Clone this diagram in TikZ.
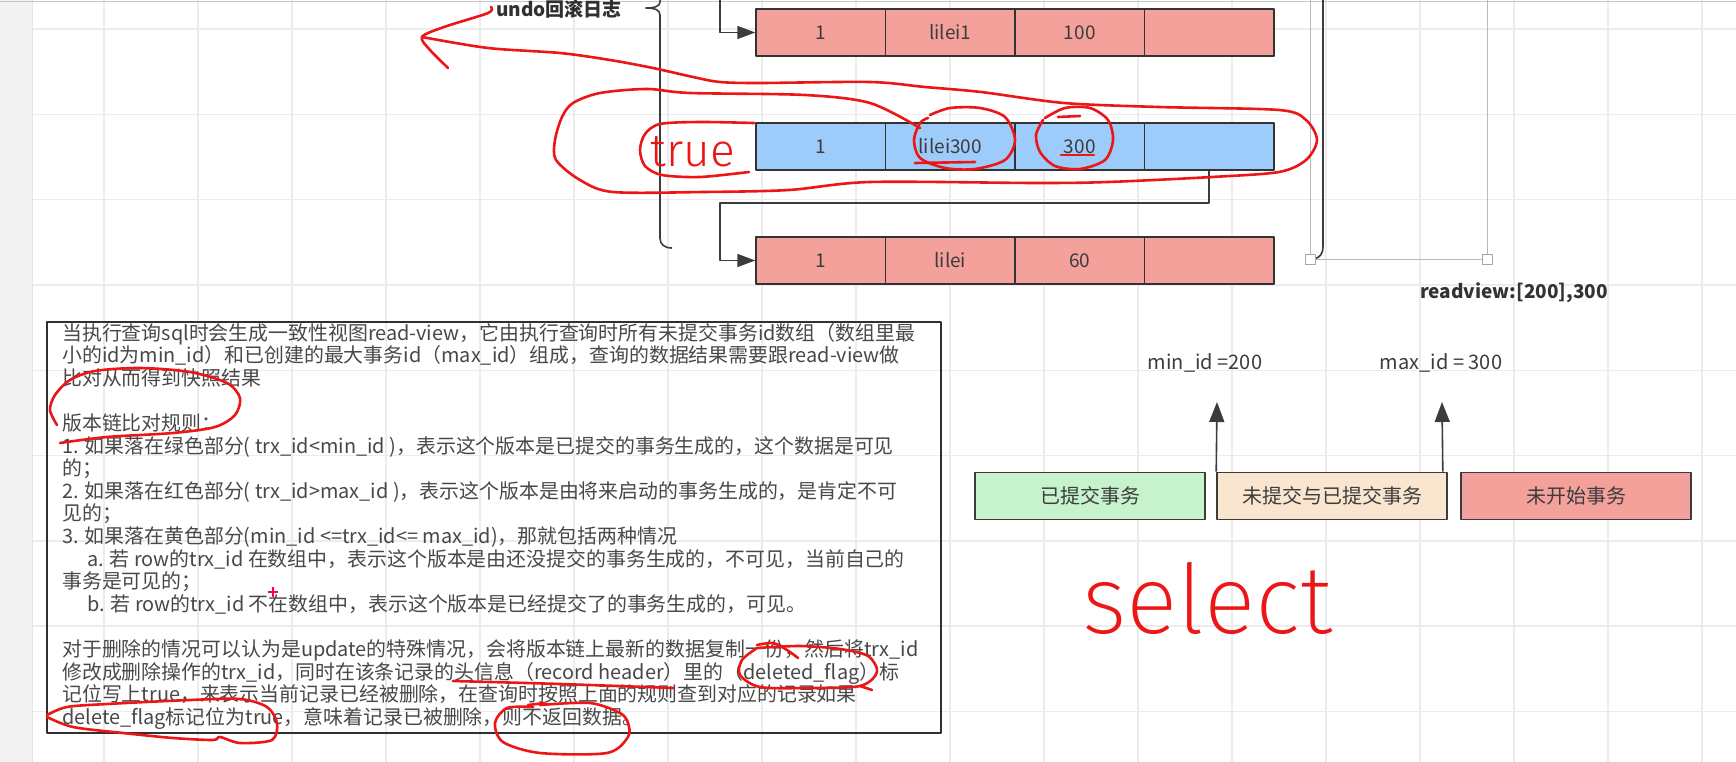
\documentclass[tikz,border=0pt]{standalone}
\usepackage{fontspec}
\setmainfont{Noto Sans CJK SC}
\IfFontExistsTF{Fira Sans ExtraLight}{\newfontfamily\handfont{Fira Sans ExtraLight}}{%
  \IfFontExistsTF{Fira Sans Light}{\newfontfamily\handfont{Fira Sans Light}}{\newfontfamily\handfont{Liberation Sans}}}
\IfFontExistsTF{Fira Sans Light}{\newfontfamily\handfontb{Fira Sans Light}}{\newfontfamily\handfontb{Liberation Sans}}
\usetikzlibrary{arrows.meta,calc}
\definecolor{rowred}{HTML}{F4A19C}
\definecolor{rowblue}{HTML}{9DCBFA}
\definecolor{lgreen}{HTML}{C6F3CB}
\definecolor{ltan}{HTML}{FAE6CF}
\definecolor{lred}{HTML}{F4A09B}
\definecolor{pen}{RGB}{236,22,22}
\definecolor{gridc}{RGB}{236,236,236}
\definecolor{ink}{RGB}{60,60,60}
\definecolor{bodyink}{RGB}{72,72,72}
\definecolor{strip}{RGB}{242,242,242}
\tikzset{
  cell/.style={draw=ink!85!black, line width=1.5pt, minimum width=129.5pt, minimum height=47pt, inner sep=0pt, font=\fontsize{19}{19}\selectfont, text=ink},
  conn/.style={draw=ink, line width=1.6pt},
  tipA/.style={-{Triangle[length=18pt,width=13pt]}},
  tipB/.style={-{Triangle[length=20pt,width=15pt]}},
  lbox/.style={draw=ink, line width=1.6pt, minimum width=230pt, minimum height=47pt, inner sep=0pt, font=\fontsize{20}{20}\selectfont, text=ink},
  penline/.style={draw=pen, line width=2.6pt, line cap=round, line join=round},
  ln/.style={anchor=base west, inner sep=0pt, font=\fontsize{19.9}{19.9}\selectfont, text=bodyink},
  handle/.style={draw=gray!70, fill=white, line width=1pt, minimum size=10pt, inner sep=0pt},
  gridline/.style={draw=gridc, line width=1.4pt}
}
\begin{document}
\begin{tikzpicture}[x=1pt,y=-1pt,line join=round]
\useasboundingbox (0,0) rectangle (1736,762);
\fill[white] (0,0) rectangle (1736,762);
% grid
\foreach \i in {1,...,18} \draw[gridline] ({10+94*\i},0) -- ({10+94*\i},762);
\foreach \i in {0,...,8} \draw[gridline] (32,{29+85.3*\i}) -- (1736,{29+85.3*\i});
\fill[strip] (0,0) rectangle (32,762);
\draw[gray!20, line width=1pt] (32,0) -- (32,762);
\draw[gray!45, line width=1.2pt] (0,1.5) -- (1736,1.5);

% version chain rows
\foreach \r/\y/\f/\a/\b/\c in {1/32.5/rowred/1/lilei1/100, 2/146.5/rowblue/1/lilei300/300, 3/260.5/rowred/1/lilei/60}{
  \node[cell, fill=\f] (r\r-a) at (820.75,\y) {\a};
  \node[cell, fill=\f] (r\r-b) at (950.25,\y) {\b};
  \node[cell, fill=\f] (r\r-c) at (1079.75,\y) {\c};
  \node[cell, fill=\f] (r\r-d) at (1209.25,\y) {};
}
\coordinate (topin) at (720,-3);
\draw[conn, tipA] (topin) |- (r1-a.west);
\coordinate (bend) at (720,203);
\draw[conn, tipA] (r2-d.south) |- (bend) |- (r3-a.west);

% brace and label
\draw[conn] (670,-4) .. controls (661,-4) and (660,-1) .. (660,2) .. controls (660,6) and (655,8) .. (646,8) .. controls (655,8) and (660,10) .. (660,15) -- (660,238) .. controls (660,244) and (664,248) .. (672,248);
\node[font=\fontsize{19}{19}\selectfont\bfseries, text=ink!80!black, anchor=east, inner sep=0pt] (undo) at (622,9) {undo回滚日志};

% right selection lines
\draw[gray!55, line width=1pt] (1310,-2) -- (1310,259) -- (1487,259) -- (1487,-2);
\draw[conn] (1323,-2) -- (1323,246) .. controls (1323,254) and (1320,258) .. (1313,259);
\node[handle] (hl) at (1310,259) {};
\node[handle] (hr) at (1487,259) {};
\node[font=\fontsize{19}{19}\selectfont\bfseries, text=ink!85!black] (rv) at (1514,293) {readview:[200],300};

% description box
\node[draw=ink!80!black, line width=1.8pt, minimum width=894pt, minimum height=411pt, anchor=north west, inner sep=0pt] (desc) at (46,321) {};
\node[ln] (l1) at (62,340) {当执行查询sql时会生成一致性视图read-view，它由执行查询时所有未提交事务id数组（数组里最};
\node[ln] (l2) at (62,362.6) {小的id为min\_id）和已创建的最大事务id（max\_id）组成，查询的数据结果需要跟read-view做};
\node[ln] (l3) at (62,385.2) {比对从而得到快照结果};
\node[ln] (l5) at (62,430.4) {版本链比对规则：};
\node[ln] (l6) at (62,453) {1. 如果落在绿色部分( trx\_id<min\_id )，表示这个版本是已提交的事务生成的，这个数据是可见};
\node[ln] (l7) at (62,475.6) {的；};
\node[ln] (l8) at (62,498.2) {2. 如果落在红色部分( trx\_id>max\_id )，表示这个版本是由将来启动的事务生成的，是肯定不可};
\node[ln] (l9) at (62,520.8) {见的；};
\node[ln] (l10) at (62,543.4) {3. 如果落在黄色部分(min\_id <=trx\_id<= max\_id)，那就包括两种情况};
\node[ln] (l11) at (87,566) {a. 若 row的trx\_id 在数组中，表示这个版本是由还没提交的事务生成的，不可见，当前自己的};
\node[ln] (l12) at (62,588.6) {事务是可见的；};
\node[ln] (l13) at (87,611.2) {b. 若 row的trx\_id 不在数组中，表示这个版本是已经提交了的事务生成的，可见。};
\node[ln] (l15) at (62,656.4) {对于删除的情况可以认为是update的特殊情况，会将版本链上最新的数据复制一份，然后将trx\_id};
\node[ln] (l16) at (62,679) {修改成删除操作的trx\_id，同时在该条记录的头信息（record header）里的（deleted\_flag）标};
\node[ln] (l17) at (62,701.6) {记位写上true，来表示当前记录已经被删除，在查询时按照上面的规则查到对应的记录如果};
\node[ln] (l18) at (62,724.2) {delete\_flag标记位为true，意味着记录已被删除，则不返回数据。};

% legend
\node[lbox, fill=lgreen] (done) at (1090,496) {已提交事务};
\node[lbox, fill=ltan] (mixed) at (1332,496) {未提交与已提交事务};
\node[lbox, fill=lred] (future) at (1576,496) {未开始事务};
\coordinate (minup) at (1217,402);
\coordinate (maxup) at (1442,402);
\draw[conn, tipB] (mixed.north west) -- (minup);
\draw[conn, tipB] ($(mixed.north east)+(-5,0)$) -- (maxup);
\node[font=\fontsize{20}{20}\selectfont, text=ink] (minl) at (1205,363) {min\_id =200};
\node[font=\fontsize{20}{20}\selectfont, text=ink] (maxl) at (1441,363) {max\_id = 300};

% red pen annotations
\draw[penline] plot[smooth, tension=0.5] coordinates {(491,7) (488,13) (444,27) (422,37) (430,50) (448,68)};
\draw[penline] plot[smooth, tension=0.5] coordinates {(422,37) (488,48) (560,53) (610,60) (653,68) (693,77) (720,82) (760,83) (870,82) (925,87) (981,92) (1064,103) (1159,107) (1279,110) (1306,120) (1317,140) (1306,160) (1279,172) (1212,177) (1108,182) (1036,183) (870,182) (789,190) (704,192) (613,192) (580,180) (556,160) (555,140) (562,117) (573,103) (600,93) (647,89) (690,93) (805,95) (870,103) (920,128)};
\draw[penline] plot[smooth, tension=0.5] coordinates {(754,123) (700,122) (660,124) (645,134) (640,150) (645,166) (662,175) (700,177) (749,172)};
\draw[penline] plot[smooth, tension=0.5] coordinates {(930,115) (950,108) (980,108) (1005,117) (1015,140) (1005,160) (975,169) (945,168) (920,158) (914,140) (920,123) (928,118)};
\draw[penline] (915,163) -- (975,162);
\draw[penline] plot[smooth, tension=0.5] coordinates {(1045,118) (1065,108) (1090,108) (1108,120) (1113,140) (1105,160) (1080,169) (1055,166) (1040,152) (1036,135) (1043,120)};
\draw[penline] (1058,117) -- (1080,116);
\draw[penline] (1061,155) -- (1094,155);
\draw[penline] plot[smooth, tension=0.5] coordinates {(57,425) (50,410) (55,395) (70,380) (95,371) (140,368) (190,372) (227,383) (240,398) (235,415) (215,427) (173,433) (107,437) (60,443)};
\draw[penline] plot[smooth, tension=0.5] coordinates {(47,715) (67,707) (107,704) (190,700) (240,699) (267,707) (277,723) (272,740) (240,743) (220,737) (213,740) (173,738) (123,733) (73,727) (47,717)};
\draw[penline] plot[smooth, tension=0.5] coordinates {(533,707) (507,708) (495,723) (503,742) (540,753) (607,753) (628,737) (628,723) (620,713) (590,703) (540,705)};
\draw[penline] (528,705) -- (545,703);
\draw[penline] plot[smooth, tension=0.5] coordinates {(757,648) (742,660) (740,675) (760,687) (807,688) (860,686) (877,672) (868,656) (840,649) (800,646) (757,648)};
\draw[penline] (860,686) -- (872,690);
\draw[penline] plot[smooth, tension=0.5] coordinates {(757,645) (773,643) (787,650) (798,658)};
\draw[penline] plot[smooth, tension=0.5] coordinates {(453,681) (560,684) (673,688)};
\draw[red!70!magenta, line width=1.2pt] (268,592) -- (278,592) (273,587) -- (273,597);
\node[text=pen, font=\handfontb\fontsize{46}{46}\selectfont, inner sep=0pt] (truetxt) at (693,152) {true};
\node[text=pen, font=\handfont\fontsize{96}{96}\selectfont, anchor=base west, inner sep=0pt] (sel) at (1082,633) {select};
\end{tikzpicture}
\end{document}
